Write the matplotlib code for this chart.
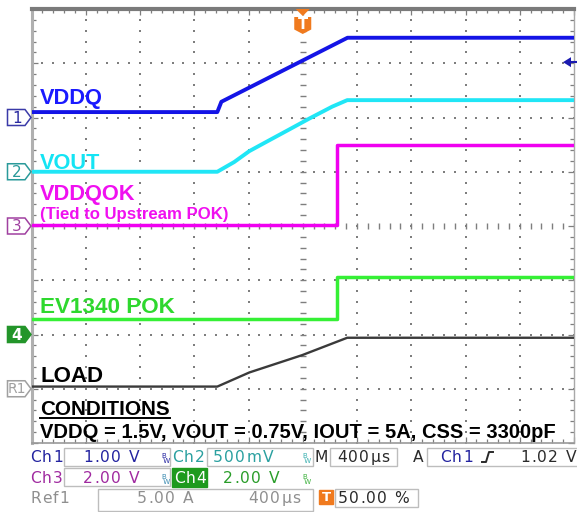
import matplotlib
matplotlib.use('Agg')
import matplotlib.pyplot as plt
import numpy as np
from matplotlib.patches import Polygon, Rectangle
from matplotlib.lines import Line2D
from matplotlib.transforms import Affine2D
from matplotlib.font_manager import FontProperties, findfont, get_font

# ---------------- data (time in us, values in channel units) ----------------
t_vddq = [-2000, -630, -600, 330, 2000]
v_vddq = [0.10, 0.10, 0.29, 1.47, 1.47]

t_vout = [-2000, -630, -505, -394, -247, -99, 48, 217, 328, 2000]
v_vout = [0.0, 0.0, 0.09, 0.19, 0.29, 0.39, 0.49, 0.60, 0.66, 0.66]

t_vddqok = [-2000, 250, 250, 2000]
v_vddqok = [0.02, 0.02, 2.99, 2.99]

t_pok = [-2000, 250, 250, 2000]
v_pok = [0.57, 0.57, 2.12, 2.12]

t_load = [-2000, -630, -394, -4, 328, 2000]
i_load = [0.2, 0.2, 1.5, 3.1, 4.7, 4.7]

# volts (amps) per division and reference offsets in divisions
scales = {"ch1": 1.0, "ch2": 0.5, "ch3": 2.0, "ch4": 2.0, "ref1": 5.0}
offsets = {"ch1": 2, "ch2": 1, "ch3": 0, "ch4": -2, "ref1": -3}
trig_level = 1.02  # V on ch1

# ---------------- figure ----------------
W, H = 577, 512
fig = plt.figure(figsize=(W / 100, H / 100), dpi=100)
fig.patch.set_facecolor('white')
PX = Affine2D().scale(1 / W, -1 / H).translate(0, 1) + fig.transFigure

L, R, T, B = 31.5, 574, 9, 443
ax = fig.add_axes([L / W, 1 - B / H, (R - L) / W, (B - T) / H])
ax.set_xlim(-2000, 2000)
ax.set_ylim(-4, 4)
ax.set_facecolor('white')

# graticule
gcol = '#7e7e7e'
xs_major = np.arange(-2000, 2001, 400)
ys_major = np.arange(-4, 5, 1)
xs_minor = np.arange(-2000, 2001, 80)
ys_minor = np.arange(-4, 4.001, 0.2)
for x in xs_major[1:-1]:
    if x == 0:
        continue
    ax.plot(np.full_like(ys_minor, x), ys_minor, ls='none', marker='s', ms=1.7,
            mew=0, color=gcol, zorder=1)
for y in ys_major[1:-1]:
    if y == 0:
        continue
    ax.plot(xs_minor, np.full(len(xs_minor), y), ls='none', marker='s', ms=1.7,
            mew=0, color=gcol, zorder=1)
ax.plot(np.zeros(len(ys_minor)), ys_minor, ls='none', marker='_', ms=5, mew=1.0,
        color=gcol, zorder=1)
ax.plot(xs_minor, np.zeros(len(xs_minor)), ls='none', marker='|', ms=5, mew=1.0,
        color=gcol, zorder=1)

ax.set_xticks(xs_major)
ax.set_yticks(ys_major)
ax.set_xticks(xs_minor, minor=True)
ax.set_yticks(ys_minor, minor=True)
ax.tick_params(which='both', direction='in', top=True, right=True,
               labelbottom=False, labelleft=False, color=gcol, width=0.9)
ax.tick_params(which='major', length=4)
ax.tick_params(which='minor', length=3)

ax.spines['top'].set_color('#7a7a7a')
ax.spines['top'].set_linewidth(3.0)
ax.spines['left'].set_color('#b0b0b0')
ax.spines['left'].set_linewidth(2.2)
ax.spines['bottom'].set_color('#9a9a9a')
ax.spines['bottom'].set_linewidth(1.2)
ax.spines['right'].set_color('#a8a8a8')
ax.spines['right'].set_linewidth(1.0)


def div(vals, ch):
    return [offsets[ch] + v / scales[ch] for v in vals]


ax.plot(t_load, div(i_load, "ref1"), color='#3a3a3a', lw=1.7, zorder=3)
ax.plot(t_pok, div(v_pok, "ch4"), color='#35f035', lw=2.5, zorder=3)
ax.plot(t_vddqok, div(v_vddqok, "ch3"), color='#f000f0', lw=2.5, zorder=3)
ax.plot(t_vout, div(v_vout, "ch2"), color='#20e6f6', lw=2.8, zorder=3)
ax.plot(t_vddq, div(v_vddq, "ch1"), color='#1414e6', lw=2.8, zorder=4)


def ypx(level):
    return H - ax.transData.transform((0, level))[1]


# channel markers on the left
def chan_marker(level, label, edge, face, tc, bold=False, size=11):
    yp = ypx(level)
    poly = Polygon([(7.5, yp - 8), (25, yp - 8), (31, yp), (25, yp + 8), (7.5, yp + 8)],
                   closed=True, transform=PX, fc=face, ec=edge, lw=1.1, zorder=5)
    fig.add_artist(poly)
    fig.text(17, yp + 0.5, label, transform=PX, ha='center', va='center', color=tc,
             fontsize=size, family='DejaVu Sans', zorder=8,
             fontweight='bold' if bold else 'normal')


chan_marker(offsets["ch1"], '1', '#3a3aa8', 'white', '#2a2aa0')
chan_marker(offsets["ch2"], '2', '#2a9a9a', 'white', '#2a9a9a')
chan_marker(offsets["ch3"], '3', '#a040a0', 'white', '#a040a0')
chan_marker(offsets["ch4"], '4', '#23952a', '#23952a', 'white', bold=True)
chan_marker(offsets["ref1"], 'R1', '#a0a0a0', 'white', '#a0a0a0', size=10)

# trigger position marker (top, at t=0)
xt = ax.transData.transform((0, 0))[0]
fig.add_artist(Polygon([(xt - 7, 9), (xt + 7, 9), (xt, 16)], closed=True, transform=PX,
                       fc='#f07a1e', ec='none', zorder=6))
fig.add_artist(Polygon([(xt - 8.5, 17), (xt + 8.5, 17), (xt + 8.5, 29.5), (xt, 34),
                        (xt - 8.5, 29.5)],
                       closed=True, transform=PX, fc='#f07a1e', ec='none', zorder=6))
fig.text(xt, 24.5, 'T', transform=PX, ha='center', va='center', color='white',
         fontsize=10.5, fontweight='bold', family='DejaVu Sans', zorder=8)

# trigger level arrow on the right
yl = ypx(offsets["ch1"] + trig_level / scales["ch1"])
fig.add_artist(Polygon([(563, yl), (571, yl - 5), (571, yl + 5)], closed=True, transform=PX,
                       fc='#1a1ab0', ec='none', zorder=6))
fig.add_artist(Line2D([568, 576], [yl, yl], transform=PX, color='#1a1ab0', lw=1.5, zorder=6))

# ---------------- trace labels ----------------
lf = dict(transform=PX, family='Liberation Sans', fontweight='bold', va='baseline', ha='left')
fig.text(40, 104, 'VDDQ', color='#1a1aff', fontsize=15.7, **lf)
fig.text(40, 169, 'VOUT', color='#14e4f4', fontsize=15.7, **lf)
fig.text(40, 200, 'VDDQOK', color='#f010f0', fontsize=15.7, **lf)
fig.text(40, 219, '(Tied to Upstream POK)', color='#f010f0', fontsize=12.1, **lf)
fig.text(40, 313, 'EV1340 POK', color='#2ed82e', fontsize=16.2, **lf)
fig.text(40, 382, 'LOAD', color='black', fontsize=16, **lf)
fig.text(40, 415, 'CONDITIONS', color='black', fontsize=14.9, **lf)
fig.add_artist(Line2D([40, 170], [417.5, 417.5], transform=PX, color='black', lw=1.4))
fig.text(40, 438, 'VDDQ = 1.5V, VOUT = 0.75V, IOUT = 5A, CSS = 3300pF', color='black',
         fontsize=14.5, **lf)

# ---------------- status bar ----------------
sfam = 'DejaVu Sans'
sprop = FontProperties(family=sfam)
sfont = get_font(findfont(sprop))


def ttext(x, y, s, color, size=11.2, track=1.2):
    sfont.set_size(size, 100)
    cx = x
    for ch in s:
        fig.text(cx, y, ch, transform=PX, fontsize=size, family=sfam, color=color,
                 ha='left', va='baseline')
        g = sfont.load_char(ord(ch))
        cx += g.linearHoriAdvance / 65536 + track


def box(x0, y0, x1, y1, fc='white', ec='#bdbdbd'):
    fig.add_artist(Rectangle((x0, y0), x1 - x0, y1 - y0, transform=PX, fc=fc, ec=ec,
                             lw=1.0))


def bw(x, y, color):
    fig.text(x, y, 'B\n W', transform=PX, fontsize=5, color=color, family=sfam,
             ha='left', va='baseline', linespacing=0.85)


c_ch1, c_ch2, c_ch3, c_ch4 = '#2323a0', '#2aa0a0', '#a02aa0', '#2a9d2a'
c_dark, c_gray = '#2a2a2a', '#8f8f8f'

# row 1
box(64, 448, 170, 466)
box(207, 448, 313, 466)
box(330, 448, 397, 466)
box(427, 448, 582, 466)
ttext(30, 462, 'Ch1', c_ch1)
ttext(83, 462, '1.00 V', c_ch1)
bw(161, 463, c_ch1)
ttext(172, 462, 'Ch2', c_ch2)
ttext(213, 462, '500mV', c_ch2)
bw(302, 463, '#3ab0b0')
ttext(315, 462, 'M', c_dark)
ttext(337, 462, '400µs', c_dark)
ttext(413, 462, 'A', c_dark)
ttext(440, 462, 'Ch1', c_ch1)
fig.add_artist(Line2D([482, 486, 489, 493], [462, 462, 452, 452], transform=PX,
                      color=c_dark, lw=1.4))
ttext(520, 462, '1.02 V', c_dark)

# row 2
box(64, 468, 170, 486)
box(172, 468, 207, 487, fc='#1e9a1e', ec='#1e9a1e')
ttext(30, 483, 'Ch3', c_ch3)
ttext(83, 483, '2.00 V', c_ch3)
bw(161, 484, '#3a8ab0')
ttext(174, 483, 'Ch4', 'white', track=0.6)
ttext(223, 483, '2.00 V', c_ch4)
bw(302, 484, '#3ab03a')

# row 3
box(98, 489, 313, 511)
box(335, 489, 418, 507)
ttext(30, 503, 'Ref1', c_gray)
ttext(137, 503, '5.00 A', c_gray)
ttext(248, 503, '400µs', c_gray)
box(319, 490, 333, 504, fc='#f07a1e', ec='#f07a1e')
fig.text(326, 497.5, 'T', transform=PX, ha='center', va='center', color='white',
         fontsize=9.5, fontweight='bold', family=sfam)
ttext(338, 503, '50.00 %', c_dark)

fig.savefig('out.png', dpi=100, facecolor='white')
